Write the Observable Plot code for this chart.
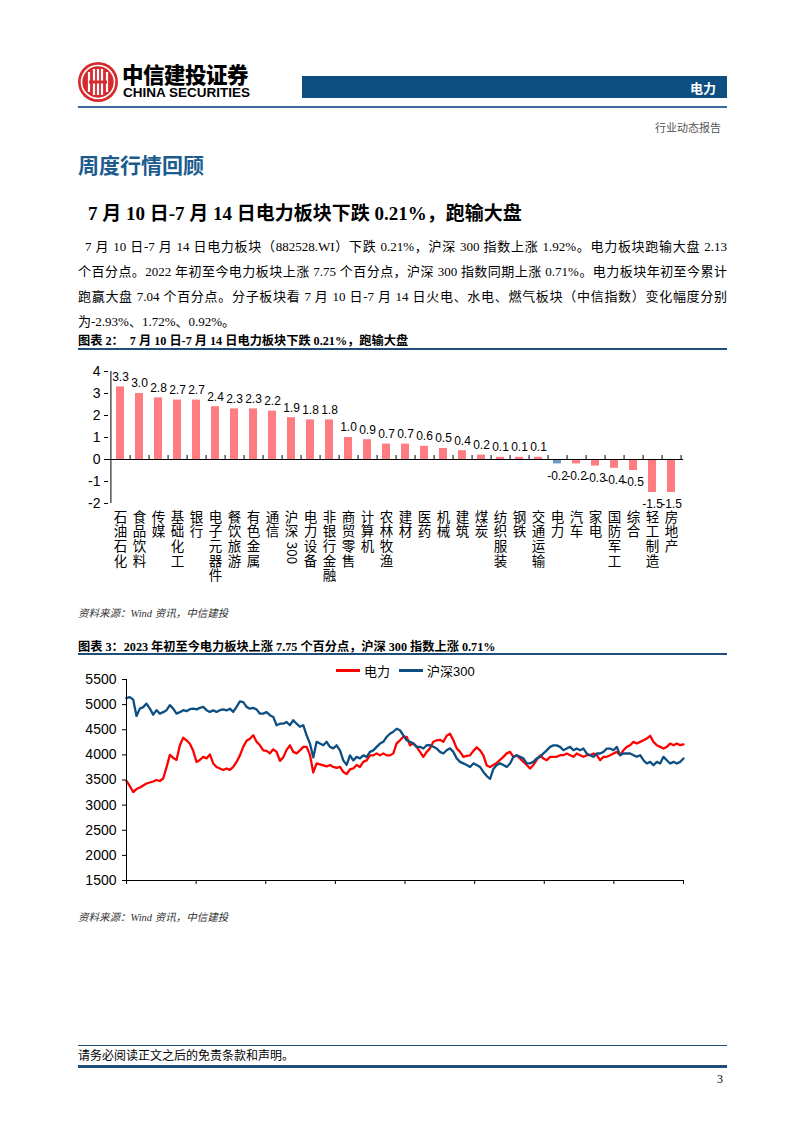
<!DOCTYPE html>
<html><head><meta charset="utf-8">
<script src="https://cdn.jsdelivr.net/npm/d3@7"></script>
<script src="https://cdn.jsdelivr.net/npm/@observablehq/plot@0.6"></script>
<style>
body{margin:0;background:#fff;}
#page{position:relative;width:802px;height:1133px;overflow:hidden;font-family:"Liberation Serif","Noto Sans CJK SC",serif;color:#000;background:#fff;}
.a{position:absolute;white-space:nowrap;}
.para{position:absolute;font-size:13px;line-height:18px;text-align:justify;text-align-last:justify;}
.cap{position:absolute;font-size:12.2px;font-weight:bold;white-space:nowrap;}
.rule{position:absolute;background:#1F4E79;}
.src{position:absolute;font-size:10.5px;font-style:italic;color:#333;white-space:nowrap;}
</style></head><body><div id="page">
<svg class="a" style="left:77px;top:61px" width="42" height="42" viewBox="0 0 42 42">
  <circle cx="21" cy="21" r="20" fill="#D52B2E"/>
  <circle cx="21" cy="21" r="16.5" fill="none" stroke="#fff" stroke-width="1.6"/>
  <path d="M12 11 V31 M17 8 V34 M21 8 V34 M25 8 V34 M30 11 V31" stroke="#fff" stroke-width="2.2" fill="none"/>
  <path d="M12 21 H30" stroke="#D52B2E" stroke-width="3"/>
</svg>
<div class="a" style="left:122px;top:58px;font-family:'Noto Sans CJK SC';font-weight:900;font-size:21.5px;letter-spacing:-0.5px;">中信建投证券</div>
<div class="a" style="left:123px;top:85px;font-family:'Liberation Sans';font-weight:bold;font-size:13.5px;">CHINA SECURITIES</div>
<div class="a" style="left:302px;top:76px;width:425px;height:22px;background:#0D4F80;"></div>
<div class="a" style="left:690px;top:78px;color:#fff;font-family:'Noto Sans CJK SC';font-weight:bold;font-size:13px;">电力</div>
<div class="a" style="left:78px;top:106px;width:649px;height:1.5px;background:#3A6A98;"></div>
<div class="a" style="left:655px;top:119px;font-size:11px;color:#555;">行业动态报告</div>
<div class="a" style="left:78px;top:149px;font-family:'Noto Sans CJK SC';font-weight:bold;font-size:21px;color:#1B5B8E;">周度行情回顾</div>
<div class="a" style="left:88px;top:198px;font-weight:bold;font-size:19px;">7 月 10 日-7 月 14 日电力板块下跌 0.21%，跑输大盘</div>
<div class="para" style="left:85px;top:238px;width:642px;">7 月 10 日-7 月 14 日电力板块（882528.WI）下跌 0.21%，沪深 300 指数上涨 1.92%。电力板块跑输大盘 2.13</div>
<div class="para" style="left:78px;top:263px;width:649px;">个百分点。2022 年初至今电力板块上涨 7.75 个百分点，沪深 300 指数同期上涨 0.71%。电力板块年初至今累计</div>
<div class="para" style="left:78px;top:288px;width:649px;">跑赢大盘 7.04 个百分点。分子板块看 7 月 10 日-7 月 14 日火电、水电、燃气板块（中信指数）变化幅度分别</div>
<div class="para" style="left:78px;top:313px;width:649px;text-align:left;text-align-last:left;">为-2.93%、1.72%、0.92%。</div>
<div class="cap" style="left:78px;top:331px;">图表 2：&nbsp; 7 月 10 日-7 月 14 日电力板块下跌 0.21%，跑输大盘</div>
<div class="rule" style="left:78px;top:348px;width:649px;height:2px;"></div>
<div id="bar" class="a" style="left:70px;top:360px;"></div>
<div class="src" style="left:78px;top:605px;">资料来源：Wind 资讯，中信建投</div>
<div class="cap" style="left:78px;top:637px;">图表 3：2023 年初至今电力板块上涨 7.75 个百分点，沪深 300 指数上涨 0.71%</div>
<div class="rule" style="left:78px;top:653px;width:649px;height:2px;"></div>
<div id="line" class="a" style="left:70px;top:672px;"></div>
<div id="legend" class="a" style="left:336px;top:661px;z-index:3;font-family:'Liberation Sans','Noto Sans CJK SC';font-size:13px;"></div>
<div class="src" style="left:78px;top:909px;">资料来源：Wind 资讯，中信建投</div>
<div class="rule" style="left:78px;top:1045px;width:649px;height:1px;"></div>
<div class="a" style="left:78px;top:1046px;font-size:12px;">请务必阅读正文之后的免责条款和声明。</div>
<div class="rule" style="left:78px;top:1065px;width:649px;height:3px;"></div>
<div class="a" style="left:717px;top:1072px;font-size:12px;">3</div>
</div>
<script>
// ---- Bar chart data ----
const categories = ["石油石化","食品饮料","传媒","基础化工","银行","电子元器件","餐饮旅游","有色金属","通信","沪深300","电力设备","非银行金融","商贸零售","计算机","农林牧渔","建材","医药","机械","建筑","煤炭","纺织服装","钢铁","交通运输","电力","汽车","家电","国防军工","综合","轻工制造","房地产"];
const changes = [3.3,3.0,2.8,2.7,2.7,2.4,2.3,2.3,2.2,1.9,1.8,1.8,1.0,0.9,0.7,0.7,0.6,0.5,0.4,0.2,0.1,0.1,0.1,-0.2,-0.2,-0.3,-0.4,-0.5,-1.5,-1.5];
const barTicks = [-2,-1,0,1,2,3,4];
const highlight = "电力";

// ---- Line chart data (2023 YTD, equally spaced trading samples) ----
const powerIndex = [3480,3380,3260,3320,3350,3390,3430,3450,3470,3500,3480,3530,3750,4000,3940,3900,4190,4340,4290,4220,4080,3860,3900,3960,3930,4010,3830,3760,3730,3700,3730,3700,3760,3860,3990,4160,4280,4320,4390,4260,4190,4090,
4080,4030,4110,4060,3880,3950,4100,4190,4060,4030,4090,4160,4160,4000,3650,3830,3810,3790,3770,3800,3760,3740,3760,3660,3620,3710,3730,3800,3760,3860,3890,3990,3990,4030,3990,4030,3990,3990,4030,4230,4290,4360,
4360,4190,4230,4160,4060,3960,4060,4130,4260,4290,4300,4260,4380,4420,4290,4130,4060,3960,3980,3990,4080,4150,4090,3990,3790,3760,3800,3840,3900,3960,4030,4060,3960,3990,3930,3860,3800,3730,3800,3900,3990,3930,
3894,3961,3961,3961,3994,3994,4027,3994,3961,4027,3994,3961,3994,3994,4027,3994,3894,3961,3961,3994,4027,4060,3994,4093,4159,4192,4259,4225,4259,4292,4325,4380,4259,4192,4159,4126,4159,4225,4192,4225,4192,4210];
const hs300Index = [5130,5150,5100,4775,4920,4950,5020,4920,4800,4890,4820,4850,4890,4990,4920,4820,4850,4890,4870,4910,4920,4905,4935,4955,4890,4855,4885,4855,4890,4905,4885,4920,4855,4955,5065,5050,4955,4920,4935,4905,4820,4820,
4850,4790,4755,4590,4620,4620,4655,4590,4690,4620,4560,4590,4390,4225,3950,4260,4225,4190,4260,4160,4130,4190,4090,3890,3800,3990,3890,3960,3930,3990,3960,4060,4090,4160,4225,4260,4360,4420,4460,4520,4490,4390,
4290,4260,4225,4160,4160,4126,4192,4192,4160,4126,4060,4027,4093,4130,4060,3930,3860,3830,3800,3760,3830,3800,3760,3660,3580,3520,3720,3800,3830,3800,3760,3830,3960,3990,3960,3930,3830,3830,3860,3930,3960,4030,
4090,4160,4190,4190,4160,4093,4126,4160,4093,4126,4093,4126,4027,3994,3961,4027,4027,4060,4126,4126,4093,4159,3994,4027,4027,4027,3994,3961,3994,3894,3828,3861,3795,3861,3828,3961,3894,3828,3861,3828,3861,3928];
const lineTicks = [1500,2000,2500,3000,3500,4000,4500,5000,5500];
const seriesNames = ["电力","沪深300"];
const xTickCount = 8;

const PINK = "#FF7C80", BLUE_BAR = "#6F9CC6", RED = "#FF0000", NAVY = "#0E4F82";

// ---- Bar chart ----
const bw = 620, bh = 240, bml = 38, bmr = 7;
const step = (bw - bml - bmr) / categories.length;
const barData = categories.map((c, i) => ({name: c, value: changes[i]}));
const labelFont = 13.5, labelPitch = 14.6, labelTop = 8;
// split each category: CJK characters stacked, trailing Latin run drawn rotated
const parts = categories.map(c => {
  const m = c.match(/^([^\x00-\x7F]*)([\x00-\x7F]*)$/);
  return {c, cjk: m[1], latin: m[2]};
});
const latinMarks = parts.filter(p => p.latin).map(p =>
  Plot.text([p], {x: "c", frameAnchor: "bottom", text: "latin", rotate: 90,
    dy: labelTop + p.cjk.length * labelPitch + 1, textAnchor: "start", lineAnchor: "middle",
    fontSize: labelFont, fontFamily: "Noto Sans CJK SC"}));

const bar = Plot.plot({
  width: bw, height: bh,
  marginLeft: bml, marginRight: bmr, marginTop: 11, marginBottom: 97,
  style: {fontFamily: "Liberation Sans, Arial, sans-serif", fontSize: "14px", color: "#000", background: "transparent"},
  x: {domain: categories, paddingInner: 0.57, paddingOuter: 0.285, axis: null},
  y: {domain: [-2, 4], axis: null},
  marks: [
    Plot.barY(barData, {x: "name", y: "value", fill: d => d.name === highlight ? BLUE_BAR : PINK}),
    Plot.ruleY([0], {stroke: "#000", strokeWidth: 1}),
    Plot.ruleX(categories, {x: d => d, y1: 0, y2: 0.18, dx: step / 2, stroke: "#000"}),
    Plot.ruleX([categories[0]], {x: d => d, y1: -2, y2: 4, dx: -step / 2, stroke: "#000"}),
    Plot.axisY({ticks: barTicks, tickSize: 4, tickPadding: 4, tickFormat: d => String(d), fontSize: 14, label: null}),
    Plot.text(barData.filter(d => d.value >= 0), {x: "name", y: "value", text: d => d.value.toFixed(1), dy: -10, fontSize: 12}),
    Plot.text(barData.filter(d => d.value < 0), {x: "name", y: "value", text: d => d.value.toFixed(1), dy: 12, fontSize: 12}),
    Plot.text(parts, {x: "c", frameAnchor: "bottom", dy: labelTop, text: p => p.cjk.split("").join("\n"),
      lineAnchor: "top", lineHeight: labelPitch / labelFont, fontSize: labelFont, fontFamily: "Noto Sans CJK SC"}),
    ...latinMarks
  ]
});
document.getElementById("bar").appendChild(bar);

// ---- Line chart ----
const lw = 630, lh = 220;
const n = powerIndex.length;
const rows = [];
powerIndex.forEach((v, i) => rows.push({i, v, s: seriesNames[0]}));
hs300Index.forEach((v, i) => rows.push({i, v, s: seriesNames[1]}));
const line = Plot.plot({
  width: lw, height: lh,
  marginLeft: 56, marginRight: 17, marginTop: 7, marginBottom: 12,
  style: {fontFamily: "Liberation Sans, Arial, sans-serif", fontSize: "14px", color: "#000", background: "transparent"},
  x: {domain: [0, n - 1], axis: null},
  y: {domain: [1500, 5500], axis: null},
  color: {domain: seriesNames, range: [RED, NAVY]},
  marks: [
    Plot.line(rows, {x: "i", y: "v", stroke: "s", z: "s", strokeWidth: 2.3}),
    Plot.ruleY([1500], {stroke: "#000"}),
    Plot.ruleX([0], {stroke: "#000"}),
    Plot.axisY({ticks: lineTicks, tickSize: 4, tickPadding: 6, tickFormat: d => String(d), fontSize: 14, label: null}),
    Plot.axisX({ticks: d3.range(xTickCount + 1).map(k => k * (n - 1) / xTickCount), tickFormat: () => "", tickSize: 4, label: null})
  ]
});
document.getElementById("line").appendChild(line);

// ---- Legend ----
const lg = d3.select("#legend").style("display", "flex").style("align-items", "center");
seriesNames.forEach((name, k) => {
  const item = lg.append("div").style("display", "flex").style("align-items", "center").style("margin-right", "9px");
  item.append("div").style("width", "24px").style("height", "3px").style("background", [RED, NAVY][k]).style("margin-right", "4px");
  item.append("span").text(name);
});
</script>
</body></html>
